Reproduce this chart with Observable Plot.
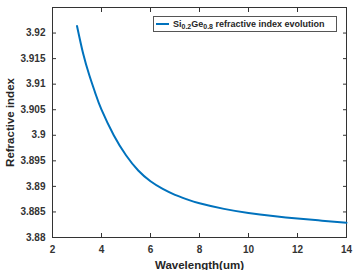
<!DOCTYPE html>
<html>
<head>
<meta charset="utf-8">
<script src="https://cdn.jsdelivr.net/npm/d3@7"></script>
<script src="https://cdn.jsdelivr.net/npm/@observablehq/plot@0.6"></script>
<style>
  html, body { margin: 0; padding: 0; background: #fff; }
  #wrap { position: relative; width: 357px; height: 270px; font-family: "Liberation Sans", Arial, sans-serif; }
  #legend {
    position: absolute; left: 153px; top: 16px; width: 184px; height: 16px;
    border: 1px solid #555; background: #fff; box-sizing: border-box;
    display: flex; align-items: center; font-weight: bold; font-size: 9px; color: #262626;
    white-space: nowrap;
  }
  #legend .sw { display: inline-block; width: 13px; height: 2px; background: #0072BD; margin: 0 4px 0 2px; }
  #legend sub { font-size: 7px; vertical-align: -2px; line-height: 0; }
</style>
</head>
<body>
<div id="wrap"></div>
<script>
const wavelengths = [3, 3.25, 3.5, 3.75, 4, 4.5, 5, 5.5, 6, 6.5, 7, 7.5, 8, 9, 10, 11, 12, 13, 14];
const refractiveIndex = [3.9214, 3.9160, 3.9118, 3.9082, 3.9050, 3.9000, 3.8961, 3.8931, 3.8910, 3.8895, 3.88835, 3.88745, 3.8867, 3.8856, 3.8848, 3.8842, 3.8837, 3.8833, 3.8829];
const xTicks = [2, 4, 6, 8, 10, 12, 14];
const yTicks = [3.88, 3.885, 3.89, 3.895, 3.9, 3.905, 3.91, 3.915, 3.92];
const xLabel = "Wavelength(um)";
const yLabel = "Refractive index";

const fmtY = d => String(+d.toFixed(3));
const axisColor = "#333";

const chart = Plot.plot({
  width: 357,
  height: 270,
  marginLeft: 52,
  marginRight: 11,
  marginTop: 7,
  marginBottom: 33,
  style: { fontFamily: "Liberation Sans, Arial, sans-serif", background: "#fff" },
  x: { domain: [2, 14] },
  y: { domain: [3.88, 3.925] },
  marks: [
    Plot.frame({ stroke: axisColor, strokeWidth: 1 }),
    Plot.axisX(xTicks, { anchor: "bottom", tickSize: -4, tickPadding: 12, fontSize: 10, fontWeight: "bold", fill: axisColor, stroke: axisColor, label: null }),
    Plot.axisX(xTicks, { anchor: "top", tickSize: -4, tickFormat: () => "", stroke: axisColor, label: null }),
    Plot.axisY(yTicks, { anchor: "left", tickSize: -4, tickPadding: 11, tickFormat: fmtY, fontSize: 10, fontWeight: "bold", fill: axisColor, stroke: axisColor, label: null }),
    Plot.axisY(yTicks, { anchor: "right", tickSize: -4, tickFormat: () => "", stroke: axisColor, label: null }),
    Plot.line(wavelengths, { x: wavelengths, y: refractiveIndex, stroke: "#0072BD", strokeWidth: 2, curve: "natural" }),
    Plot.text([xLabel], { text: d => d, frameAnchor: "bottom", dy: 31.5, lineAnchor: "bottom", fontSize: 11.5, fontWeight: "bold", fill: "#262626" }),
    Plot.text([yLabel], { text: d => d, frameAnchor: "left", dx: -42, rotate: -90, textAnchor: "middle", lineAnchor: "middle", fontSize: 11.5, fontWeight: "bold", fill: "#262626" })
  ]
});

const wrap = document.getElementById("wrap");
wrap.appendChild(chart);
const legend = document.createElement("div");
legend.id = "legend";
legend.innerHTML = '<span class="sw"></span><span>Si<sub>0.2</sub>Ge<sub>0.8</sub> refractive index evolution</span>';
wrap.appendChild(legend);
</script>
</body>
</html>
